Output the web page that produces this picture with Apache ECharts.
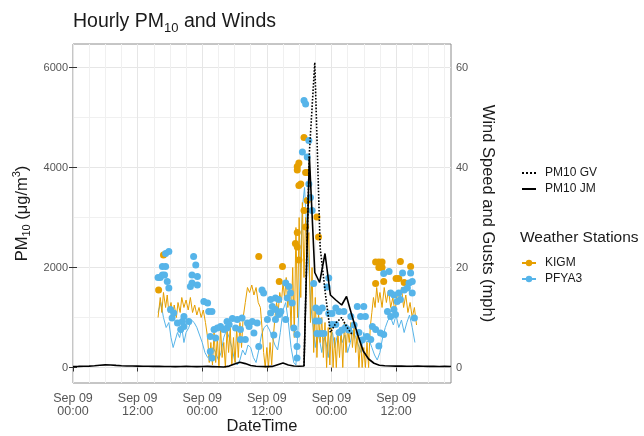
<!DOCTYPE html>
<html>
<head>
<meta charset="utf-8">
<script src="https://cdn.jsdelivr.net/npm/echarts@6/dist/echarts.min.js"></script>
<style>
  html, body { margin: 0; padding: 0; background: #fff; }
  #chart { width: 644px; height: 436px; }
</style>
</head>
<body>
<div id="chart"></div>
<script>
// x values are hours counted from the first "Sep 09 00:00" tick
const xMax = 70.2
const xTickHours = [0, 12, 24, 36, 48, 60]
const xTickLabels = ['Sep 09\n00:00', 'Sep 09\n12:00', 'Sep 09\n00:00', 'Sep 09\n12:00', 'Sep 09\n00:00', 'Sep 09\n12:00']
const xGridHours = [0, 3, 6, 9, 12, 15, 18, 21, 24, 27, 30, 33, 36, 39, 42, 45, 48, 51, 54, 57, 60, 63, 66, 69]
const pmTicks = [0, 2000, 4000, 6000]
const pmGrid = [0, 1000, 2000, 3000, 4000, 5000, 6000]
const windTicks = [0, 20, 40, 60]

// PM10 (ug/m3)
const pm10JM = [
  [0, 20], [1, 22], [2, 25], [3, 28], [4, 35], [5, 45], [6, 52], [7, 50], [8, 42], [9, 35],
  [10, 30], [11, 30], [12, 28], [13, 26], [14, 25], [15, 22], [16, 22], [17, 20], [18, 20], [19, 18],
  [20, 20], [21, 22], [22, 20], [23, 18], [24, 20], [25, 22], [26, 18], [27, 14], [28, 10], [29, 28],
  [30, 70], [31, 105], [32, 78], [33, 40], [34, 25], [35, 20], [36, 18], [37, 22], [38, 55], [39, 88],
  [40, 50], [41, 30], [42, 24], [42.9, 30], [43.9, 4220], [44.9, 1900], [45.8, 1700], [46.8, 2280],
  [47.8, 1450], [48.8, 1350], [49.9, 1250], [50.8, 1420], [51.9, 1000], [52.9, 650], [53.9, 330],
  [54.9, 170], [55.9, 85], [56.9, 45], [57.9, 35], [59, 30], [60, 28], [61, 30], [62, 26], [63, 25],
  [64, 28], [65, 25], [66, 22], [67, 24], [68, 20], [69, 22], [70.2, 20]
]
const pm10GV = [
  [42.9, 30], [43.9, 4300], [44.9, 6100], [45.9, 2400], [46.9, 1450], [47.8, 700], [48.9, 900],
  [49.9, 1000], [50.9, 800], [51.9, 650]
]

// wind speed (mph)
const kigmSpeed = [
  [15.8, 10], [16.2, 14], [16.5, 11], [16.8, 15], [17.2, 12], [17.5, 14.5], [17.8, 11], [18.2, 13],
  [18.5, 10.5], [18.8, 12.5], [19.2, 10], [19.5, 13], [19.9, 11], [20.2, 14], [20.6, 12], [21.0, 13.5],
  [21.4, 11.5], [21.8, 14], [22.2, 11], [22.6, 12.5], [23.0, 10.5], [23.4, 12], [23.8, 10], [24.2, 11.5],
  [24.6, 9], [25.0, 6], [25.3, 1], [25.6, 5], [25.9, 0.5], [26.2, 7], [26.5, 1], [26.8, 6], [27.1, 0],
  [27.4, 8], [27.7, 2], [28.0, 5], [28.3, 0], [28.6, 7.5], [28.9, 3], [29.2, 8], [29.5, 0.5], [29.8, 6],
  [30.1, 1], [30.4, 8], [30.7, 2], [31.0, 9], [31.3, 4], [31.6, 10], [32.0, 13], [32.4, 16], [32.8, 15],
  [33.2, 16.5], [33.6, 14.5], [34.0, 16], [34.4, 13], [34.8, 12], [35.1, 8], [35.4, 3], [35.7, 0],
  [36.0, 4], [36.3, 0], [36.6, 5], [36.9, 0.5], [37.2, 6], [37.5, 10], [37.8, 13], [38.1, 11], [38.4, 15],
  [38.7, 13], [39.0, 17], [39.3, 14], [39.6, 18], [39.9, 12], [40.2, 16], [40.5, 8], [40.8, 20], [41.1, 6],
  [41.4, 28], [41.7, 10], [42.0, 30], [42.3, 14], [42.6, 33], [42.9, 18], [43.2, 30], [43.5, 22],
  [43.8, 27], [44.1, 9], [44.4, 20], [44.7, 3], [45.0, 14], [45.3, 2], [45.6, 11], [45.9, 5], [46.2, 10],
  [46.5, 2], [46.8, 9], [47.1, 0], [47.4, 8], [47.7, 0.5], [48.0, 9], [48.3, 0], [48.6, 6], [48.9, 0],
  [49.2, 7], [49.5, 2], [49.8, 8], [50.1, 0], [50.4, 9], [50.7, 3], [51.0, 8], [51.3, 5], [51.6, 9],
  [51.9, 4], [52.2, 8], [52.5, 3], [52.8, 7], [53.1, 0], [53.4, 6], [53.7, 0], [54.0, 4], [54.3, 0],
  [54.6, 5], [54.9, 0], [55.2, 8], [55.5, 11], [55.8, 14], [56.1, 12], [56.4, 16], [56.7, 13], [57.0, 15],
  [57.4, 12], [57.8, 16], [58.2, 13], [58.6, 15.5], [59.0, 12], [59.4, 14], [59.8, 11], [60.2, 15],
  [60.6, 13], [61.0, 16], [61.4, 12], [61.8, 14.5], [62.2, 11], [62.6, 13], [63.0, 10], [63.4, 12], [63.8, 8.5]
]
const pfyaSpeed = [
  [15.8, 11], [16.3, 13], [16.8, 10], [17.3, 8], [17.8, 9], [18.2, 6], [18.6, 4], [19.0, 5.5], [19.4, 7],
  [19.8, 6], [20.2, 8], [20.6, 5], [21.0, 7], [21.5, 8], [22.0, 9.5], [22.5, 9], [23.0, 8], [23.5, 6.5],
  [24.0, 5], [24.5, 3], [25.0, 2], [25.5, 2.5], [26.0, 4], [26.5, 3], [27.0, 1.5], [27.5, 3], [28.0, 6],
  [28.5, 7.5], [29.0, 6], [29.5, 4], [30.0, 1.5], [30.5, 0.5], [31.0, 1.5], [31.5, 3.5], [32.0, 2.5],
  [32.5, 4.5], [33.0, 4], [33.5, 2], [34.0, 1], [34.5, 3.5], [35.0, 6.5], [35.5, 8], [36.0, 8.5],
  [36.5, 7.5], [37.0, 6], [37.5, 4.5], [38.0, 3.5], [38.5, 7], [39.0, 11.5], [39.5, 13], [40.0, 9],
  [40.5, 4], [41.0, 1], [41.4, 0.5], [41.8, 8], [42.2, 18], [42.6, 32], [43.0, 36], [43.4, 28], [43.8, 20],
  [44.2, 12], [44.6, 8], [45.0, 4], [45.4, 7], [45.8, 5.5], [46.2, 3], [46.6, 6], [47.0, 5], [47.4, 2],
  [47.8, 6], [48.2, 7], [48.6, 4], [49.0, 6], [49.5, 8], [50.0, 5], [50.5, 6.5], [51.0, 3], [51.5, 5],
  [52.0, 7.5], [52.5, 6], [53.0, 4.5], [53.5, 3], [54.0, 7], [54.5, 5], [55.0, 5.5], [55.5, 4], [56.0, 2.5],
  [56.5, 1.5], [57.0, 3], [57.5, 6], [58.0, 8], [58.5, 9.5], [59.0, 10], [59.5, 8.5], [60.0, 10.5],
  [60.5, 8], [61.0, 9.5], [61.5, 7], [62.0, 9], [62.5, 10.5], [63.0, 8], [63.5, 5]
]

// gusts (mph)
const kigmGust = [
  [15.9, 15.5], [16.8, 22.5], [34.5, 22.2], [38.3, 17.2], [38.9, 20.2], [41.3, 24.8],
  [41.65, 40.2], [41.95, 40.9], [41.65, 39.5], [41.95, 36.4], [42.3, 36.7], [42.9, 46.0], [43.2, 39.0],
  [43.5, 39.0], [41.65, 27.0], [41.65, 24.1], [41.95, 21.5], [42.9, 31.4], [43.2, 28.1], [43.5, 33.4],
  [45.3, 30.1], [45.6, 26.1],
  [56.2, 21.1], [56.8, 21.1], [57.4, 21.1], [56.8, 20.0], [57.4, 20.0], [56.2, 16.8], [57.7, 17.2],
  [60.0, 17.8], [60.5, 17.8], [60.8, 21.2], [62.7, 20.2], [61.5, 17.0]
]
const pfyaGust = [
  [15.8, 18.0], [16.2, 18.0], [16.6, 18.5], [16.6, 20.2], [17.2, 20.2], [17.2, 22.8], [17.8, 23.2],
  [17.0, 18.5], [17.5, 17.2], [17.8, 15.9], [18.1, 11.6], [18.4, 9.9], [18.7, 10.9], [19.4, 8.9],
  [20.0, 7.6], [20.3, 9.2], [20.6, 8.2], [20.6, 10.2], [21.5, 9.2], [21.8, 16.2], [22.1, 16.9],
  [22.1, 18.5], [22.4, 22.2], [22.8, 20.5], [23.1, 18.2], [23.1, 16.5], [24.3, 13.2], [25.0, 12.9],
  [25.2, 11.2], [25.8, 11.2], [25.5, 6.2], [26.5, 5.9], [25.5, 3.2], [25.8, 1.9], [26.2, 7.6], [26.8, 7.9],
  [27.4, 8.2], [28.0, 7.6], [28.6, 7.9], [28.6, 9.2], [29.0, 8.6], [29.6, 9.8], [30.2, 7.9], [30.5, 9.6],
  [31.1, 7.6], [31.1, 5.6], [31.4, 9.9], [32.0, 5.6], [32.4, 8.9], [32.7, 8.2], [33.3, 9.2], [33.6, 6.9],
  [34.2, 8.9], [34.5, 4.2], [35.1, 15.5], [35.4, 14.9], [36.1, 9.6], [36.7, 13.6], [36.7, 10.9],
  [37.0, 12.2], [37.3, 6.5], [37.6, 13.9], [37.6, 11.6], [37.6, 9.6], [38.2, 13.6], [38.2, 10.6],
  [38.6, 11.2], [39.5, 16.9], [39.5, 9.6], [39.8, 13.9], [40.1, 16.2], [40.4, 14.9], [40.7, 12.9],
  [41.0, 7.9], [41.6, 6.6], [41.6, 4.2], [41.6, 1.9],
  [42.6, 43.1], [42.9, 53.4], [43.2, 52.7], [43.5, 42.1], [43.8, 45.4], [43.8, 36.7], [44.1, 34.0], [44.4, 31.4],
  [44.7, 16.8], [45.1, 11.9], [45.7, 11.2], [46.3, 11.9], [45.1, 9.3], [45.7, 9.3], [45.3, 6.8], [46.0, 6.8],
  [46.6, 6.8], [47.2, 16.1], [47.5, 17.9], [47.5, 10.8], [48.1, 10.8], [48.8, 11.9], [49.4, 11.2],
  [50.3, 11.2], [48.1, 8.6], [48.8, 8.6], [49.4, 7.0], [50.0, 7.5], [50.6, 8.0], [51.2, 7.5], [51.6, 10.2],
  [52.2, 8.5], [52.8, 12.2], [53.4, 10.2], [54.0, 12.2], [54.3, 10.2], [53.1, 7.0], [53.7, 5.5], [54.6, 6.2],
  [55.3, 5.6], [55.6, 8.2], [56.2, 7.6], [56.8, 4.3], [57.1, 6.9], [57.7, 6.6],
  [57.7, 18.8], [58.4, 11.2], [58.7, 19.2], [59.0, 10.2], [59.0, 14.9], [59.6, 11.6], [59.6, 14.5],
  [59.9, 10.6], [60.2, 13.2], [60.5, 14.9], [60.8, 13.6], [61.2, 18.9], [61.5, 15.5], [62.1, 15.9],
  [62.4, 16.9], [62.7, 18.9], [63.0, 17.2], [63.0, 14.9], [63.4, 9.9]
]

const FONT = 'Liberation Sans, Arial, sans-serif'
const ORANGE = '#E69F00'
const BLUE = '#56B4E9'

const chart = echarts.init(document.getElementById('chart'), null, { renderer: 'canvas' })

const tickStyle = { length: 4, lineStyle: { color: '#333', width: 1 } }
const labelStyle = { color: '#555', fontSize: 11, fontFamily: FONT, formatter: v => String(v) }
const legendText = { fontSize: 12, color: '#1a1a1a', fontFamily: FONT, padding: [0, 0, 0, 4] }

const option = {
  animation: false,
  backgroundColor: '#fff',
  textStyle: { fontFamily: FONT },
  title: [
    {
      text: '{a|Hourly PM}{b|10}{a| and Winds}',
      left: 68,
      top: 4,
      textStyle: {
        fontWeight: 'normal',
        rich: {
          a: { fontSize: 19.5, fontWeight: 'normal', color: '#1a1a1a', fontFamily: FONT, lineHeight: 26 },
          b: { fontSize: 13, fontWeight: 'normal', color: '#1a1a1a', fontFamily: FONT, lineHeight: 15, verticalAlign: 'bottom' }
        }
      }
    },
    {
      text: 'Weather Stations',
      left: 515,
      top: 225,
      textStyle: { fontSize: 15.5, fontWeight: 'normal', color: '#1a1a1a', fontFamily: FONT }
    }
  ],
  legend: [
    {
      orient: 'vertical',
      left: 516,
      top: 162,
      selectedMode: false,
      itemWidth: 14,
      itemHeight: 8,
      itemGap: 4,
      textStyle: legendText,
      data: [
        { name: 'PM10 GV', itemStyle: { opacity: 0 } },
        { name: 'PM10 JM', itemStyle: { opacity: 0 } }
      ]
    },
    {
      orient: 'vertical',
      left: 516,
      top: 252,
      selectedMode: false,
      itemWidth: 14,
      itemHeight: 8,
      itemGap: 4,
      textStyle: legendText,
      data: ['KIGM', 'PFYA3']
    }
  ],
  grid: {
    left: 73, right: 193, top: 44, bottom: 53,
    outerBoundsMode: 'none',
    containLabel: false,
    show: true, borderColor: '#8c8c8c', borderWidth: 1, backgroundColor: 'transparent'
  },
  xAxis: [
    {
      type: 'value',
      min: 0,
      max: xMax,
      position: 'bottom',
      axisLine: { show: false },
      axisTick: Object.assign({ customValues: xTickHours }, tickStyle),
      axisLabel: {
        customValues: xTickHours,
        lineHeight: 13,
        fontSize: 12.5,
        margin: 9,
        color: '#555',
        fontFamily: FONT,
        formatter: v => xTickLabels[xTickHours.indexOf(v)]
      },
      splitLine: { show: false },
      name: 'DateTime',
      nameLocation: 'middle',
      nameGap: 35,
      nameMoveOverlap: false,
      nameTextStyle: { fontSize: 16.5, color: '#1a1a1a', fontFamily: FONT }
    },
    {
      // grid lines only
      type: 'value',
      min: 0,
      max: xMax,
      position: 'bottom',
      axisLine: { show: false },
      axisTick: { show: false, customValues: xGridHours },
      axisLabel: { show: false },
      splitLine: { show: true, lineStyle: { color: ['#e6e6e6', '#f0f0f0', '#f0f0f0', '#f0f0f0'], width: 1 } }
    }
  ],
  yAxis: [
    {
      type: 'value',
      min: -310,
      max: 6470,
      position: 'left',
      axisLine: { show: false },
      axisTick: Object.assign({ customValues: pmTicks }, tickStyle),
      axisLabel: Object.assign({ customValues: pmTicks, margin: 5 }, labelStyle),
      splitLine: { show: false },
      name: 'PM{s|10} (μg/m{p|3})',
      nameLocation: 'middle',
      nameRotate: 90,
      nameGap: 33,
      nameTextStyle: {
        fontSize: 16.5, color: '#1a1a1a', fontFamily: FONT, lineHeight: 21,
        rich: {
          s: { fontSize: 11, fontFamily: FONT, color: '#1a1a1a', lineHeight: 13, verticalAlign: 'bottom' },
          p: { fontSize: 11, fontFamily: FONT, color: '#1a1a1a', lineHeight: 13, verticalAlign: 'top' }
        }
      }
    },
    {
      type: 'value',
      min: -3.1,
      max: 64.7,
      position: 'right',
      axisLine: { show: false },
      axisTick: Object.assign({ customValues: windTicks }, tickStyle),
      axisLabel: Object.assign({ customValues: windTicks, margin: 5 }, labelStyle),
      splitLine: { show: false },
      name: 'Wind Speed and Gusts (mph)',
      nameLocation: 'middle',
      nameRotate: -90,
      nameGap: 27,
      nameTextStyle: { fontSize: 16.5, color: '#1a1a1a', fontFamily: FONT }
    },
    {
      // grid lines only
      type: 'value',
      min: -310,
      max: 6470,
      position: 'left',
      axisLine: { show: false },
      axisTick: { show: false, customValues: pmGrid },
      axisLabel: { show: false },
      splitLine: { show: true, lineStyle: { color: ['#e6e6e6', '#f0f0f0'], width: 1 } }
    }
  ],
  series: [
    {
      name: 'PFYA3', type: 'line', xAxisIndex: 0, yAxisIndex: 1, data: pfyaSpeed,
      symbol: 'circle', showSymbol: false, lineStyle: { color: BLUE, width: 1 }, itemStyle: { color: BLUE }, z: 2
    },
    {
      name: 'KIGM', type: 'line', xAxisIndex: 0, yAxisIndex: 1, data: kigmSpeed,
      symbol: 'circle', showSymbol: false, lineStyle: { color: ORANGE, width: 1 }, itemStyle: { color: ORANGE }, z: 3
    },
    {
      name: 'KIGM', type: 'scatter', xAxisIndex: 0, yAxisIndex: 1, data: kigmGust,
      symbolSize: 7, itemStyle: { color: ORANGE, opacity: 1 }, z: 4
    },
    {
      name: 'PFYA3', type: 'scatter', xAxisIndex: 0, yAxisIndex: 1, data: pfyaGust,
      symbolSize: 7, itemStyle: { color: BLUE, opacity: 1 }, z: 5
    },
    {
      name: 'PM10 JM', type: 'line', xAxisIndex: 0, yAxisIndex: 0, data: pm10JM,
      symbol: 'none', lineStyle: { color: '#000', width: 1.6 }, itemStyle: { color: '#000' }, z: 6
    },
    {
      name: 'PM10 GV', type: 'line', xAxisIndex: 0, yAxisIndex: 0, data: pm10GV,
      symbol: 'none', lineStyle: { color: '#000', width: 1.6, type: 'dotted' }, itemStyle: { color: '#000' }, z: 7
    }
  ]
}

chart.setOption(option)
window.addEventListener('resize', function() {
  chart.resize()
})
</script>
</body>
</html>
